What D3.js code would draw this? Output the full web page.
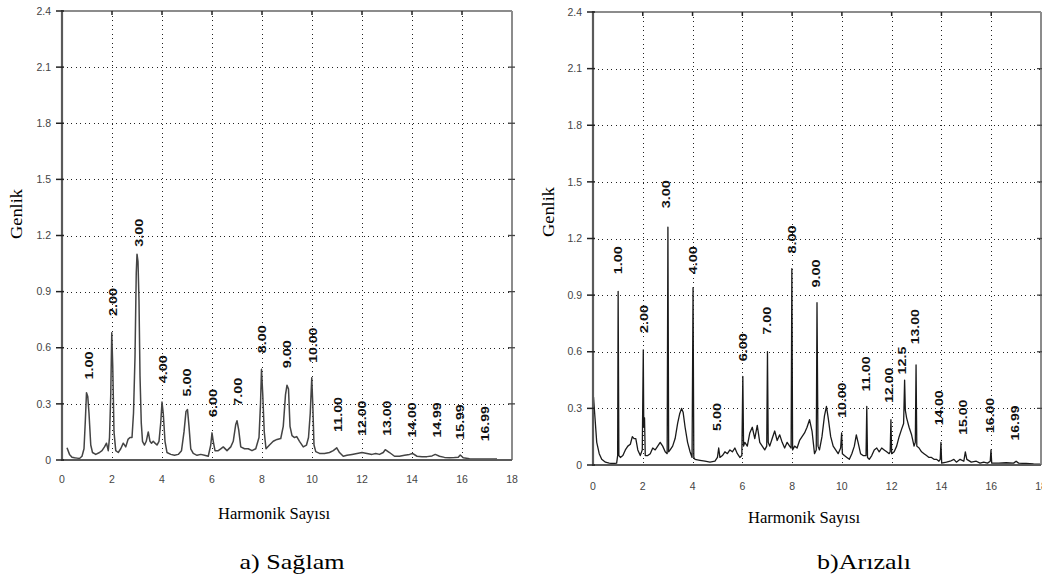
<!DOCTYPE html>
<html>
	<head>
		<meta charset="utf-8">
		<title>Harmonik spektrum</title>
		<style>
			body { margin: 0; background: #fff; }
			.tick-label { font: 10.5px "Liberation Sans", Arial, sans-serif; fill: #444; }
			.peak-label { font: bold 10px "Liberation Sans", Arial, sans-serif; fill: #111; }
			.grid line { stroke: #222; stroke-width: 1; stroke-dasharray: 1,3.5; shape-rendering: crispEdges; }
		</style>
		<script src="https://d3js.org/d3.v7.min.js"></script>
	</head>
	<body>
		<div id="chart"></div>
		<script>
			// axis ticks
			var xTicks = [0, 2, 4, 6, 8, 10, 12, 14, 16, 18];
			var yTicks = [0, 0.3, 0.6, 0.9, 1.2, 1.5, 1.8, 2.1, 2.4];

			// a) Sağlam : [harmonik, genlik]
			var saglamSpectrum = [
			[0.2,0.065],[0.3,0.03],[0.4,0.015],[0.5,0.012],[0.6,0.01],[0.7,0.008],[0.8,0.02],[0.88,0.06],
			[0.93,0.2],[0.98,0.36],[1.03,0.34],[1.08,0.25],[1.15,0.08],[1.22,0.04],[1.35,0.03],[1.5,0.04],
			[1.6,0.05],[1.7,0.07],[1.78,0.09],[1.85,0.05],[1.9,0.12],[1.95,0.35],[1.99,0.68],[2.03,0.5],
			[2.08,0.15],[2.15,0.05],[2.25,0.04],[2.35,0.06],[2.45,0.09],[2.55,0.07],[2.64,0.11],[2.72,0.12],
			[2.8,0.12],[2.86,0.25],[2.92,0.55],[2.97,1.0],[3.0,1.1],[3.04,1.06],[3.08,0.85],[3.12,0.45],
			[3.17,0.2],[3.22,0.1],[3.3,0.08],[3.37,0.1],[3.45,0.15],[3.52,0.1],[3.58,0.09],[3.65,0.1],
			[3.72,0.09],[3.8,0.08],[3.88,0.1],[3.95,0.2],[4.0,0.31],[4.05,0.25],[4.12,0.1],[4.2,0.04],
			[4.35,0.03],[4.5,0.025],[4.65,0.03],[4.78,0.05],[4.88,0.15],[4.96,0.26],[5.02,0.27],[5.08,0.18],
			[5.15,0.06],[5.25,0.035],[5.4,0.025],[5.55,0.03],[5.7,0.025],[5.85,0.02],[5.95,0.08],[6.0,0.145],
			[6.05,0.1],[6.12,0.05],[6.25,0.05],[6.35,0.06],[6.45,0.07],[6.6,0.05],[6.75,0.07],[6.85,0.1],
			[6.95,0.19],[7.0,0.21],[7.07,0.16],[7.15,0.07],[7.3,0.06],[7.45,0.06],[7.6,0.05],[7.75,0.06],
			[7.88,0.12],[7.94,0.3],[7.98,0.485],[8.03,0.35],[8.09,0.15],[8.16,0.06],[8.3,0.08],[8.45,0.1],
			[8.6,0.11],[8.75,0.115],[8.85,0.18],[8.94,0.35],[9.0,0.4],[9.06,0.38],[9.12,0.18],[9.2,0.13],
			[9.3,0.12],[9.39,0.125],[9.5,0.1],[9.65,0.07],[9.78,0.08],[9.86,0.12],[9.93,0.25],[9.99,0.44],
			[10.03,0.3],[10.08,0.08],[10.15,0.045],[10.3,0.035],[10.5,0.035],[10.7,0.04],[10.85,0.05],[10.99,0.065],
			[11.1,0.04],[11.25,0.02],[11.4,0.025],[11.6,0.03],[11.8,0.035],[12.0,0.04],[12.2,0.035],[12.4,0.03],
			[12.55,0.035],[12.7,0.03],[12.85,0.04],[12.93,0.055],[13.1,0.04],[13.3,0.02],[13.5,0.02],[13.7,0.025],
			[13.9,0.03],[14.02,0.035],[14.2,0.02],[14.4,0.018],[14.6,0.018],[14.8,0.022],[14.93,0.03],[15.1,0.02],
			[15.3,0.014],[15.5,0.012],[15.7,0.013],[15.85,0.015],[15.93,0.027],[16.05,0.012],[16.3,0.007],[16.8,0.006],
			[17.4,0.006]
			];

			// b) Arızalı : [harmonik, genlik]
			var arizaliSpectrum = [
			[0.02,0.36],[0.08,0.25],[0.15,0.12],[0.25,0.06],[0.35,0.03],[0.5,0.015],[0.65,0.01],[0.8,0.008],
			[0.95,0.01],[0.99,0.05],[1.01,0.92],[1.04,0.05],[1.1,0.04],[1.2,0.05],[1.3,0.08],[1.4,0.1],
			[1.5,0.11],[1.58,0.15],[1.65,0.14],[1.72,0.14],[1.8,0.08],[1.9,0.05],[1.98,0.08],[2.02,0.61],
			[2.04,0.2],[2.07,0.25],[2.1,0.05],[2.2,0.05],[2.3,0.06],[2.4,0.09],[2.5,0.08],[2.6,0.1],
			[2.7,0.12],[2.8,0.1],[2.9,0.07],[2.98,0.06],[3.01,1.26],[3.04,0.07],[3.1,0.08],[3.2,0.1],
			[3.3,0.14],[3.4,0.22],[3.48,0.27],[3.56,0.3],[3.62,0.28],[3.7,0.2],[3.8,0.12],[3.9,0.07],
			[3.98,0.04],[4.02,0.94],[4.05,0.04],[4.1,0.03],[4.3,0.025],[4.5,0.02],[4.7,0.015],[4.9,0.02],
			[5.0,0.04],[5.05,0.09],[5.1,0.04],[5.2,0.05],[5.3,0.07],[5.4,0.06],[5.5,0.08],[5.6,0.07],
			[5.7,0.09],[5.8,0.06],[5.9,0.04],[5.98,0.05],[6.02,0.47],[6.05,0.1],[6.1,0.12],[6.2,0.1],
			[6.3,0.17],[6.4,0.2],[6.5,0.14],[6.6,0.21],[6.7,0.12],[6.8,0.1],[6.9,0.08],[6.98,0.1],
			[7.01,0.6],[7.04,0.12],[7.1,0.1],[7.2,0.14],[7.3,0.18],[7.4,0.13],[7.5,0.16],[7.6,0.12],
			[7.7,0.09],[7.8,0.12],[7.9,0.1],[7.96,0.09],[7.99,1.04],[8.02,0.08],[8.1,0.1],[8.2,0.09],
			[8.3,0.13],[8.4,0.15],[8.5,0.17],[8.6,0.2],[8.7,0.24],[8.8,0.18],[8.9,0.06],[8.97,0.08],
			[9.0,0.86],[9.04,0.1],[9.1,0.08],[9.2,0.15],[9.3,0.26],[9.38,0.31],[9.45,0.25],[9.55,0.15],
			[9.65,0.1],[9.75,0.08],[9.85,0.06],[9.95,0.09],[9.99,0.17],[10.02,0.06],[10.1,0.05],[10.2,0.04],
			[10.3,0.03],[10.4,0.06],[10.5,0.1],[10.58,0.16],[10.65,0.12],[10.75,0.06],[10.85,0.05],[10.97,0.05],
			[11.0,0.31],[11.03,0.04],[11.1,0.03],[11.2,0.05],[11.3,0.08],[11.4,0.09],[11.5,0.07],[11.6,0.09],
			[11.7,0.08],[11.8,0.07],[11.9,0.06],[11.94,0.07],[11.97,0.24],[12.0,0.06],[12.1,0.07],[12.2,0.1],
			[12.3,0.15],[12.4,0.19],[12.48,0.22],[12.52,0.45],[12.55,0.29],[12.6,0.25],[12.7,0.2],[12.8,0.16],
			[12.9,0.1],[12.95,0.12],[12.98,0.53],[13.01,0.1],[13.1,0.09],[13.2,0.07],[13.3,0.06],[13.4,0.05],
			[13.5,0.04],[13.6,0.04],[13.7,0.03],[13.8,0.03],[13.9,0.02],[13.95,0.03],[13.98,0.12],[14.01,0.01],
			[14.2,0.015],[14.35,0.02],[14.5,0.03],[14.6,0.015],[14.75,0.03],[14.9,0.02],[14.96,0.07],[15.02,0.03],
			[15.2,0.015],[15.4,0.02],[15.55,0.01],[15.7,0.015],[15.85,0.01],[15.96,0.02],[15.99,0.08],[16.02,0.01],
			[16.3,0.01],[16.6,0.012],[16.9,0.01],[17.0,0.02],[17.1,0.01],[17.4,0.008],[17.7,0.006],[18.0,0.005]
			];

			// peak labels: text, harmonic position, genlik level of label bottom
			var saglamLabels = ["1.00","2.00","3.00","4.00","5.00","6.00","7.00","8.00","9.00","10.00","11.00","12.00","13.00","14.00","14.99","15.99","16.99"];
			var saglamLabelX = [1.04,2.0,3.04,4.0,4.96,6.0,7.0,7.96,8.96,10.0,11.0,11.96,12.96,13.96,14.96,15.88,16.88];
			var saglamLabelY = [0.43,0.77,1.14,0.41,0.34,0.23,0.29,0.57,0.49,0.52,0.15,0.13,0.13,0.12,0.12,0.11,0.10];

			var arizaliLabels = ["1.00","2.00","3.00","4.00","5.00","6.00","7.00","8.00","9.00","10.00","11.00","12.00","12.5","13.00","14.00","15.00","16.00","16.99"];
			var arizaliLabelX = [1.0,2.04,2.92,4.0,4.96,6.0,6.96,7.96,8.92,9.96,10.96,11.88,12.4,12.92,13.88,14.84,15.92,16.92];
			var arizaliLabelY = [1.01,0.70,1.36,1.01,0.18,0.55,0.69,1.12,0.94,0.25,0.39,0.33,0.48,0.64,0.21,0.16,0.17,0.13];

			var serif = "'Liberation Serif', 'Times New Roman', Times, serif";

			var svg = d3.select("#chart").append("svg")
			.attr("width", 1042)
			.attr("height", 579);

			svg.append("rect").attr("width", 1042).attr("height", 579).attr("fill", "#fff");

			drawPanel({
				left: 62, right: 512, top: 11, bottom: 460,
				data: saglamSpectrum, labels: saglamLabels, labelX: saglamLabelX, labelY: saglamLabelY,
				lineColor: "#444", lineWidth: 1.5, xLabelY: 483,
				genlik: [16, 214], harmonik: [274, 519], caption: "a) Sağlam", captionAt: [292, 569], captionLen: 105
			});

			drawPanel({
				left: 593, right: 1041, top: 12, bottom: 465,
				data: arizaliSpectrum, labels: arizaliLabels, labelX: arizaliLabelX, labelY: arizaliLabelY,
				lineColor: "#1a1a1a", lineWidth: 1.3, xLabelY: 490,
				genlik: [548, 212], harmonik: [804, 523], caption: "b)Arızalı", captionAt: [864, 569], captionLen: 94
			});

			function drawPanel(cfg) {
				var x = d3.scaleLinear().domain([0, 18]).range([cfg.left, cfg.right]);
				var y = d3.scaleLinear().domain([0, 2.4]).range([cfg.bottom, cfg.top]);
				var g = svg.append("g");

				// dotted grid
				var grid = g.append("g").attr("class", "grid");
				grid.selectAll(".gx")
				.data(xTicks.slice(1, -1))
				.enter().append("line")
				.attr("x1", function(d){ return Math.round(x(d)) + 0.5; })
				.attr("x2", function(d){ return Math.round(x(d)) + 0.5; })
				.attr("y1", cfg.top).attr("y2", cfg.bottom);
				grid.selectAll(".gy")
				.data(yTicks.slice(1, -1))
				.enter().append("line")
				.attr("y1", function(d){ return Math.round(y(d)) + 0.5; })
				.attr("y2", function(d){ return Math.round(y(d)) + 0.5; })
				.attr("x1", cfg.left).attr("x2", cfg.right);

				// spectrum
				var line = d3.line()
				.x(function(d){ return x(d[0]); })
				.y(function(d){ return y(d[1]); });

				g.append("path")
				.datum(cfg.data)
				.attr("fill", "none")
				.attr("stroke", cfg.lineColor)
				.attr("stroke-width", cfg.lineWidth)
				.attr("stroke-linejoin", "round")
				.attr("d", line);

				// frame
				g.append("line").attr("x1", cfg.left).attr("x2", cfg.right).attr("y1", cfg.top).attr("y2", cfg.top)
				.attr("stroke", "#8c8c8c").attr("stroke-width", 2);
				g.append("line").attr("x1", cfg.right).attr("x2", cfg.right).attr("y1", cfg.top).attr("y2", cfg.bottom)
				.attr("stroke", "#8c8c8c").attr("stroke-width", 2);
				g.append("line").attr("x1", cfg.left).attr("x2", cfg.left).attr("y1", cfg.top - 1).attr("y2", cfg.bottom + 1)
				.attr("stroke", "#5a5a5a").attr("stroke-width", 2.2);
				g.append("line").attr("x1", cfg.left).attr("x2", cfg.right).attr("y1", cfg.bottom).attr("y2", cfg.bottom)
				.attr("stroke", "#5a5a5a").attr("stroke-width", 2.2);

				// ticks on the frame
				g.selectAll(".ty").data(yTicks).enter().append("line")
				.attr("x1", cfg.left - 6).attr("x2", cfg.left + 2)
				.attr("y1", function(d){ return y(d); }).attr("y2", function(d){ return y(d); })
				.attr("stroke", "#222").attr("stroke-width", 1.5);
				g.selectAll(".tr").data(yTicks.slice(1, -1)).enter().append("line")
				.attr("x1", cfg.right - 4).attr("x2", cfg.right + 3)
				.attr("y1", function(d){ return y(d); }).attr("y2", function(d){ return y(d); })
				.attr("stroke", "#444").attr("stroke-width", 1.3);
				g.selectAll(".tt").data(xTicks.slice(1, -1)).enter().append("line")
				.attr("x1", function(d){ return x(d); }).attr("x2", function(d){ return x(d); })
				.attr("y1", cfg.top).attr("y2", cfg.top + 4)
				.attr("stroke", "#222").attr("stroke-width", 1.5);

				// tick labels
				g.selectAll(".ly").data(yTicks).enter().append("text")
				.attr("class", "tick-label")
				.attr("x", cfg.left - 11)
				.attr("y", function(d){ return y(d); })
				.attr("dy", "0.35em")
				.attr("text-anchor", "end")
				.text(function(d){ return d === 0 ? "0" : d3.format(".1f")(d); });
				g.selectAll(".lx").data(xTicks).enter().append("text")
				.attr("class", "tick-label")
				.attr("x", function(d){ return x(d); })
				.attr("y", cfg.xLabelY)
				.attr("text-anchor", "middle")
				.text(function(d){ return d; });

				// peak labels (rotated)
				g.selectAll(".pk").data(cfg.labels).enter().append("text")
				.attr("class", "peak-label")
				.attr("transform", function(d, i){
					return "translate(" + (x(cfg.labelX[i]) + 1) + "," + y(cfg.labelY[i]) + ") rotate(-90)";
				})
				.attr("dy", "0.36em")
				.attr("textLength", function(d){ return d.length * 7; })
				.attr("lengthAdjust", "spacingAndGlyphs")
				.text(function(d){ return d; });

				// axis titles and caption
				g.append("text")
				.attr("transform", "translate(" + cfg.genlik[0] + "," + cfg.genlik[1] + ") rotate(-90)")
				.attr("dy", "0.35em")
				.attr("text-anchor", "middle")
				.attr("font-family", serif).attr("font-size", 17).attr("fill", "#000")
				.attr("textLength", 50).attr("lengthAdjust", "spacingAndGlyphs")
				.text("Genlik");
				g.append("text")
				.attr("x", cfg.harmonik[0]).attr("y", cfg.harmonik[1])
				.attr("text-anchor", "middle")
				.attr("font-family", serif).attr("font-size", 17).attr("fill", "#000")
				.attr("textLength", 112).attr("lengthAdjust", "spacingAndGlyphs")
				.text("Harmonik Sayısı");
				g.append("text")
				.attr("x", cfg.captionAt[0]).attr("y", cfg.captionAt[1])
				.attr("text-anchor", "middle")
				.attr("font-family", serif).attr("font-size", 21).attr("fill", "#000")
				.attr("textLength", cfg.captionLen).attr("lengthAdjust", "spacingAndGlyphs")
				.text(cfg.caption);
			}
		</script>
	</body>
</html>
